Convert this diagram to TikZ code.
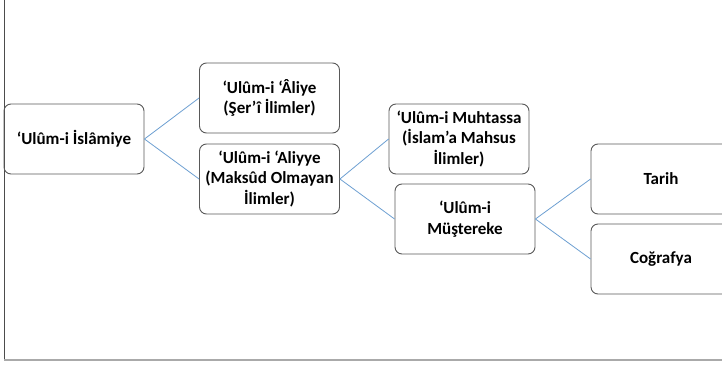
\documentclass[tikz,border=0pt]{standalone}
\usepackage{fontspec}
\setmainfont{Carlito}
\definecolor{boxgray}{RGB}{89,89,89}
\definecolor{linkblue}{RGB}{110,160,210}
\definecolor{framegray}{RGB}{170,170,170}
\begin{document}
\begin{tikzpicture}[x=1pt,y=-1pt,
    ilim/.style={draw=boxgray, line width=0.9pt, rounded corners=7pt, minimum width=140pt, minimum height=70pt, inner sep=0pt, align=center, font=\bfseries\fontsize{17}{20.5}\selectfont},
    link/.style={draw=linkblue, line width=0.8pt}]
            \clip (0,0) rectangle (722,364);
            \fill[white] (0,0) rectangle (722,364);
            \draw[black!70, line width=1pt] (4,0) -- (4,360);
            \draw[framegray, line width=1.6pt] (4,360) -- (722,360);

            \node[ilim] (Ulum) at (74,139) {‘Ulûm-i İslâmiye};
            \node[ilim] (Aliye) at (269.5,98) {‘Ulûm-i ‘Âliye\\(Şer’î İlimler)};
            \node[ilim] (Aliyye) at (269.5,179) {‘Ulûm-i ‘Aliyye\\(Maksûd Olmayan\\İlimler)};
            \node[ilim] (Muhtassa) at (459,139) {‘Ulûm-i Muhtassa\\(İslam’a Mahsus\\İlimler)};
            \node[ilim] (Mustereke) at (465,219) {‘Ulûm-i\\Müştereke};
            \node[ilim] (Tarih) at (661,179) {Tarih};
            \node[ilim] (Cografya) at (661,259) {Coğrafya};

            \draw[link] (Ulum.east) to (Aliye.west); \draw[link] (Ulum.east) to (Aliyye.west);
            \draw[link] (Aliyye.east) to (Muhtassa.west); \draw[link] (Aliyye.east) to (Mustereke.west);
            \draw[link] (Mustereke.east) to (Tarih.west); \draw[link] (Mustereke.east) to (Cografya.west);
        \end{tikzpicture}
\end{document}
